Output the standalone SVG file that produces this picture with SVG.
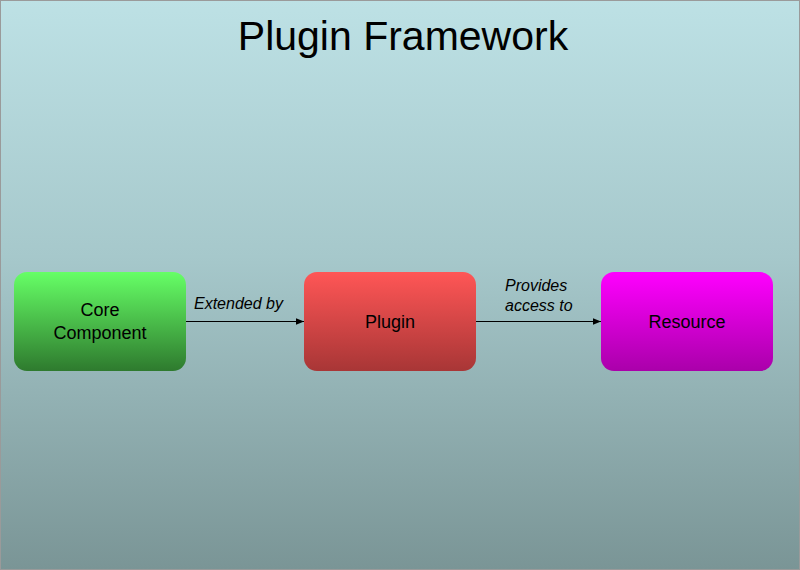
<svg xmlns="http://www.w3.org/2000/svg" width="800" height="570" viewBox="0 0 800 570">
<defs>
<linearGradient id="bg" x1="0" y1="0" x2="0" y2="1">
<stop offset="0" stop-color="#bde1e5"/>
<stop offset="0.45" stop-color="#a6c8cb"/>
<stop offset="1" stop-color="#7a9596"/>
</linearGradient>
<linearGradient id="gGreen" x1="0" y1="0" x2="0" y2="1">
<stop offset="0" stop-color="#66ff66"/>
<stop offset="1" stop-color="#2e7a2e"/>
</linearGradient>
<linearGradient id="gRed" x1="0" y1="0" x2="0" y2="1">
<stop offset="0" stop-color="#ff5656"/>
<stop offset="1" stop-color="#a83636"/>
</linearGradient>
<linearGradient id="gMag" x1="0" y1="0" x2="0" y2="1">
<stop offset="0" stop-color="#ff00ff"/>
<stop offset="1" stop-color="#aa00aa"/>
</linearGradient>
<marker id="arrow" viewBox="0 0 10 10" refX="10" refY="5" markerWidth="8" markerHeight="8" markerUnits="userSpaceOnUse" orient="auto">
<path d="M0,1 L10,5 L0,9 z" fill="#000"/>
</marker>
</defs>
<style>
.node-label{font-family:"Liberation Sans",Arial,sans-serif;font-size:18px;fill:#000;text-anchor:middle}
.edge-label{font-family:"Liberation Sans",Arial,sans-serif;font-size:16px;font-style:italic;fill:#000}
.edge{stroke:#000;stroke-width:1;fill:none;marker-end:url(#arrow)}
</style>
<rect x="0.5" y="0.5" width="799" height="569" fill="url(#bg)" stroke="#9a9a9a" stroke-width="1"/>
<text x="403" y="50" font-family="'Liberation Sans',Arial,sans-serif" font-size="41" text-anchor="middle" fill="#000">Plugin Framework</text>
<g id="connectors">
<line class="edge" x1="186" y1="321.5" x2="304" y2="321.5"/>
<line class="edge" x1="476" y1="321.5" x2="601" y2="321.5"/>
<text class="edge-label" x="194" y="309">Extended by</text>
<text class="edge-label" x="505" y="291">Provides</text>
<text class="edge-label" x="505" y="311">access to</text>
</g>
<g id="core">
<rect x="14" y="272" width="172" height="99" rx="13" fill="url(#gGreen)"/>
<text class="node-label" x="100" y="316">Core</text>
<text class="node-label" x="100" y="339">Component</text>
</g>
<g id="plugin">
<rect x="304" y="272" width="172" height="99" rx="13" fill="url(#gRed)"/>
<text class="node-label" x="390" y="328">Plugin</text>
</g>
<g id="resource">
<rect x="601" y="272" width="172" height="99" rx="13" fill="url(#gMag)"/>
<text class="node-label" x="687" y="328">Resource</text>
</g>
</svg>
